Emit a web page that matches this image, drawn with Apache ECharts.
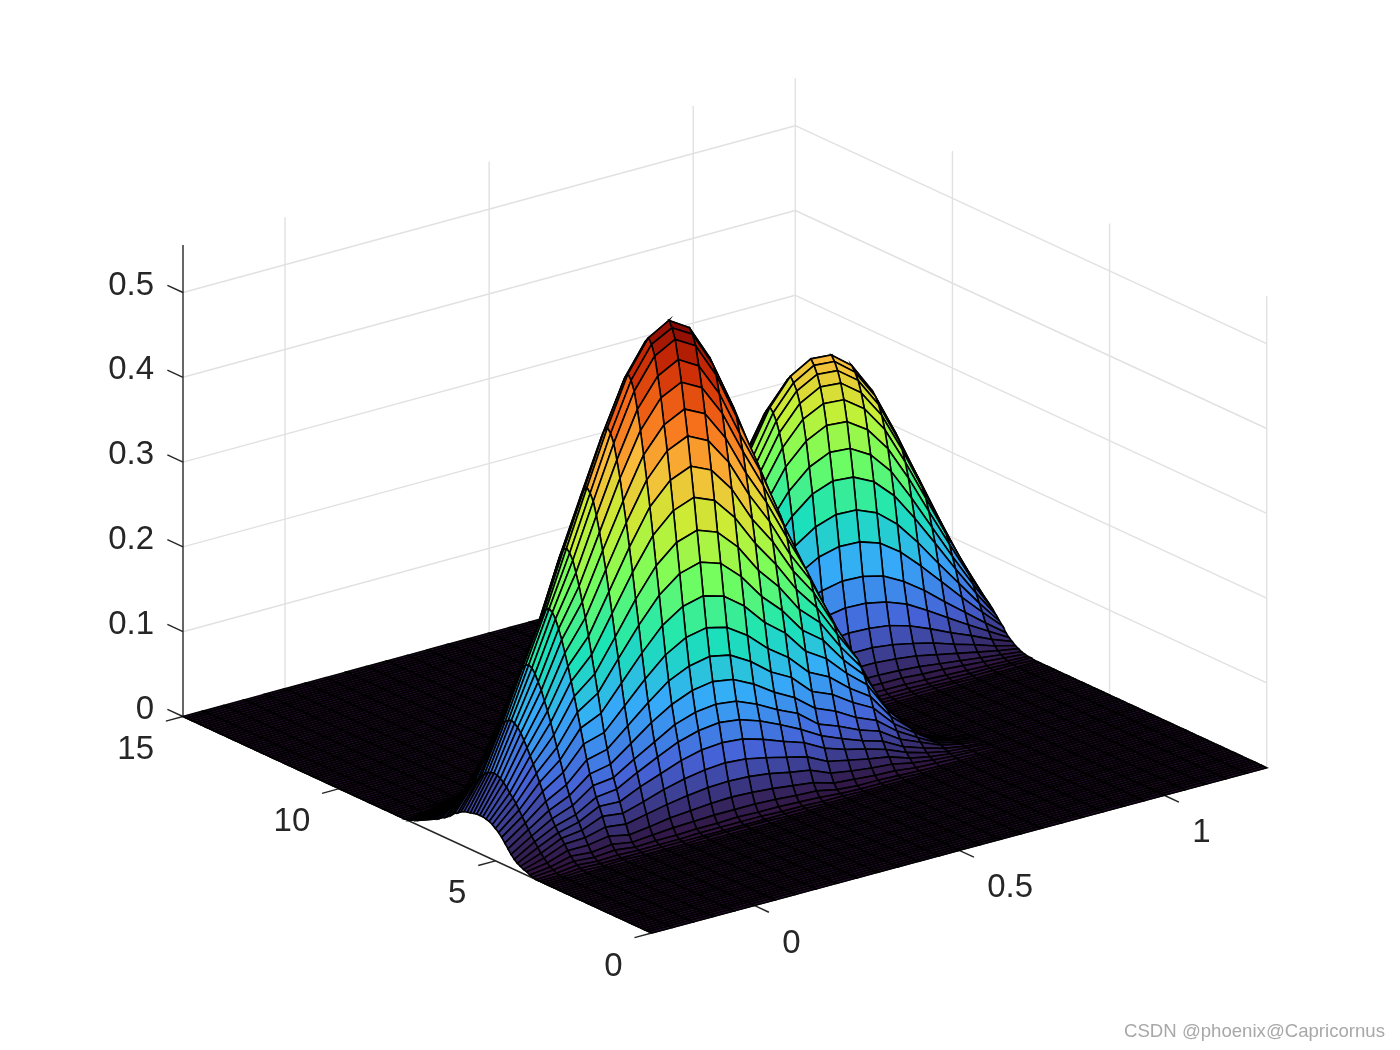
<!DOCTYPE html>
<html><head><meta charset="utf-8"><style>html,body{margin:0;background:#fff}#c{width:1400px;height:1050px}</style>
<script src="https://cdn.jsdelivr.net/npm/echarts@6/dist/echarts.min.js"></script></head>
<body><div id="c"></div><script>
const xGrid=[-0.25,-0.2,-0.15,-0.1,-0.05,0,0.05,0.1,0.15,0.2,0.25,0.3,0.35,0.4,0.45,0.5,0.55,0.6,0.65,0.7,0.75,0.8,0.85,0.9,0.95,1,1.05,1.1,1.15,1.2,1.25];
const yGrid=[0,0.1,0.2,0.3,0.4,0.5,0.6,0.7,0.8,0.9,1,1.1,1.2,1.3,1.4,1.5,1.6,1.7,1.8,1.9,2,2.1,2.2,2.3,2.4,2.5,2.6,2.7,2.8,2.9,3,3.1,3.2,3.3,3.4,3.5,3.6,3.7,3.8,3.9,4,4.1,4.2,4.3,4.4,4.5,4.6,4.7,4.8,4.9,5,5.1,5.2,5.3,5.4,5.5,5.6,5.7,5.8,5.9,6,6.1,6.2,6.3,6.4,6.5,6.6,6.7,6.8,6.9,7,7.1,7.2,7.3,7.4,7.5,7.6,7.7,7.8,7.9,8,8.1,8.2,8.3,8.4,8.5,8.6,8.7,8.8,8.9,9,9.1,9.2,9.3,9.4,9.5,9.6,9.7,9.8,9.9,10,10.1,10.2,10.3,10.4,10.5,10.6,10.7,10.8,10.9,11,11.1,11.2,11.3,11.4,11.5,11.6,11.7,11.8,11.9,12,12.1,12.2,12.3,12.4,12.5,12.6,12.7,12.8,12.9,13,13.1,13.2,13.3,13.4,13.5,13.6,13.7,13.8,13.9,14,14.1,14.2,14.3,14.4,14.5,14.6,14.7,14.8,14.9,15];
// heights in thousandths. Each inner list is one x column.
// frontHill: columns x=-0.25..0.85, rows start at y=3.0. Rows and columns outside are 0.
const frontHill=[
[0,0,0,0,0,0,0,0,1,2,4,5,7,9,12,16,21,26,31,35,38,41,43,44,45,45,45,44,43,42,41,39,36,34,30,27,24,22,19,17,15,13,11,9,7,5,4,2,1],
[0,0,0,0,0,0,0,1,3,5,8,12,16,21,26,31,37,43,49,55,61,66,70,75,79,82,84,85,84,82,79,75,70,66,61,55,49,44,38,33,28,23,20,17,13,10,7,4,2,1],
[0,0,0,0,0,1,2,4,7,11,16,22,27,32,38,45,53,62,72,81,90,99,107,115,122,129,134,137,139,137,134,129,122,115,107,99,90,81,72,62,53,45,38,32,27,22,16,11,7,4,2,1],
[0,0,0,0,0,0,1,2,5,9,16,23,30,38,45,54,64,75,88,101,114,127,140,152,162,173,181,189,194,196,194,189,181,173,162,152,140,127,114,101,88,75,64,54,45,38,30,23,16,9,5,2,1],
[0,0,0,0,0,1,1,3,7,12,20,29,40,50,59,71,83,98,115,132,149,166,182,198,212,226,237,247,253,256,253,247,237,226,212,198,182,166,149,132,115,98,83,71,59,50,40,29,20,12,7,3,1,1],
[0,0,0,0,0,0,1,2,4,8,15,26,37,49,62,74,88,104,122,143,165,186,207,227,247,264,281,295,308,315,319,315,308,295,281,264,247,227,207,186,165,143,122,104,88,74,62,49,37,26,15,8,4,2,1],
[0,0,0,0,0,0,1,2,5,10,18,31,44,60,75,89,106,125,147,172,199,223,249,273,297,318,338,356,371,379,384,379,371,356,338,318,297,273,249,223,199,172,147,125,106,89,75,60,44,31,18,10,5,2,1],
[0,0,0,0,0,0,1,2,5,12,22,36,52,69,87,103,124,146,172,201,232,261,291,319,346,370,395,415,433,443,448,443,433,415,395,370,346,319,291,261,232,201,172,146,124,103,87,69,52,36,22,12,5,2,1],
[0,0,0,0,0,1,1,3,6,13,24,40,58,78,98,117,139,165,194,227,261,294,328,360,390,418,445,468,488,499,505,499,488,468,445,418,390,360,328,294,261,227,194,165,139,117,98,78,58,40,24,13,6,3,1,1],
[0,0,0,0,0,1,1,3,6,14,26,43,62,84,105,125,149,176,208,243,280,315,351,385,418,447,477,501,523,535,541,535,523,501,477,447,418,385,351,315,280,243,208,176,149,125,105,84,62,43,26,14,6,3,1,1],
[0,0,0,0,0,1,1,3,7,14,27,44,64,86,108,128,153,181,213,249,287,323,360,395,429,459,489,514,536,548,555,548,536,514,489,459,429,395,360,323,287,249,213,181,153,128,108,86,64,44,27,14,7,3,1,1],
[0,0,0,0,0,1,1,3,6,14,26,43,62,84,105,125,149,176,207,242,279,314,350,384,417,447,476,500,522,534,540,534,522,500,476,447,417,384,350,314,279,242,207,176,149,125,105,84,62,43,26,14,6,3,1,1],
[0,0,0,0,0,0,1,2,6,13,24,40,57,77,97,115,137,162,191,224,257,290,323,355,385,412,439,461,481,492,498,492,481,461,439,412,385,355,323,290,257,224,191,162,137,115,97,77,57,40,24,13,6,2,1],
[0,0,0,0,0,0,1,2,5,11,21,35,51,68,86,102,121,143,169,198,227,256,286,313,340,364,388,407,425,435,440,435,425,407,388,364,340,313,286,256,227,198,169,143,121,102,86,68,51,35,21,11,5,2,1],
[0,0,0,0,0,0,0,1,4,10,18,31,45,60,74,91,108,130,152,179,204,230,255,280,302,323,341,357,366,371,366,357,341,323,302,280,255,230,204,179,152,130,108,91,74,60,45,31,18,10,4,1],
[0,0,0,0,0,0,0,1,2,5,11,21,33,47,60,72,89,107,128,151,174,197,219,239,257,275,288,297,302,297,288,275,257,239,219,197,174,151,128,107,89,72,60,47,33,21,11,5,2,1],
[0,0,0,0,0,0,0,0,1,3,9,17,28,39,50,63,79,97,116,136,156,175,191,207,220,228,233,228,220,207,191,175,156,136,116,97,79,63,50,39,28,17,9,3,1],
[0,0,0,0,0,0,0,0,1,3,7,14,23,33,41,52,65,81,96,112,126,140,153,163,170,174,170,163,153,140,126,112,96,81,65,52,41,33,23,14,7,3,1],
[0,0,0,0,0,0,0,0,1,2,6,12,19,26,34,44,55,68,80,92,102,110,117,120,117,110,102,92,80,68,55,44,34,26,19,12,6,2,1],
[0,0,0,0,0,0,0,0,0,1,3,7,11,16,21,28,36,43,50,56,60,62,60,56,50,43,36,28,21,16,11,7,3,1],
[0,0,0,0,0,0,0,0,0,0,2,4,6,9,13,18,22,26,29,30,29,26,22,18,13,9,6,4,2],
[0,0,0,0,0,0,0,0,0,0,1,2,3,4,6,8,9,10,9,8,6,4,3,2,1],
[0,0,0,0,0,0,0,0,0,0,0,1,1,2,2,3,3,3,2,2,1,1]
];
// rearHill: columns x=0.4..1.25, rows start at y=7.2.
const rearHill=[
[0,0,0,0,1,1,1,2,3,5,7,9,12,14,17,19,21,23,24,25,26,26,26,25,24,23,21,19,17,14,12,9,7,5,3,2,1,1,1],
[0,0,0,0,1,2,3,4,6,9,12,16,21,25,30,34,37,40,43,44,45,46,45,44,43,40,37,34,30,25,21,16,12,9,6,4,3,2,1],
[0,0,0,1,1,2,3,4,7,10,14,20,26,34,41,49,55,61,66,69,72,74,75,74,72,69,66,61,55,49,41,34,26,20,14,10,7,4,3,2,1,1],
[0,0,1,1,2,4,7,10,15,22,31,40,52,63,74,84,93,101,106,110,113,115,113,110,106,101,93,84,74,63,52,40,31,22,15,10,7,4,2,1,1],
[0,0,1,2,3,6,9,15,22,32,44,57,74,90,107,121,134,145,152,158,162,165,162,158,152,145,134,121,107,90,74,57,44,32,22,15,9,6,3,2,1],
[0,1,1,2,5,8,13,20,30,43,60,78,101,123,146,165,183,197,208,216,221,225,221,216,208,197,183,165,146,123,101,78,60,43,30,20,13,8,5,2,1,1],
[0,1,1,3,6,10,16,26,38,54,76,99,129,156,184,209,231,250,263,274,280,285,280,274,263,250,231,209,184,156,129,99,76,54,38,26,16,10,6,3,1,1],
[0,1,2,3,7,12,19,30,44,63,88,115,149,181,214,242,269,290,306,318,326,331,326,318,306,290,269,242,214,181,149,115,88,63,44,30,19,12,7,3,2,1],
[0,1,2,4,7,13,21,32,48,69,96,125,163,197,234,264,293,317,334,347,355,361,355,347,334,317,293,264,234,197,163,125,96,69,48,32,21,13,7,4,2,1],
[0,1,2,4,8,14,21,34,50,72,100,130,169,205,243,275,305,329,347,360,369,375,369,360,347,329,305,275,243,205,169,130,100,72,50,34,21,14,8,4,2,1],
[0,1,2,4,7,13,21,34,50,71,99,129,168,204,241,273,303,327,345,358,367,373,367,358,345,327,303,273,241,204,168,129,99,71,50,34,21,13,7,4,2,1],
[0,1,2,4,7,13,20,32,47,68,94,123,160,194,229,259,287,310,327,340,348,354,348,340,327,310,287,259,229,194,160,123,94,68,47,32,20,13,7,4,2,1],
[0,1,2,3,6,11,18,29,42,61,85,110,143,174,206,233,258,279,294,305,313,318,313,305,294,279,258,233,206,174,143,110,85,61,42,29,18,11,6,3,2,1],
[0,1,1,3,5,10,15,24,36,51,71,93,120,146,173,195,217,234,247,256,263,267,263,256,247,234,217,195,173,146,120,93,71,51,36,24,15,10,5,3,1,1],
[0,0,1,2,4,8,12,19,28,40,56,73,95,115,137,154,171,185,195,203,208,211,208,203,195,185,171,154,137,115,95,73,56,40,28,19,12,8,4,2,1],
[0,0,1,2,3,6,9,14,21,30,41,54,70,85,100,113,126,136,143,149,153,155,153,149,143,136,126,113,100,85,70,54,41,30,21,14,9,6,3,2,1],
[0,0,1,1,2,4,6,9,13,19,27,35,46,55,65,74,82,89,93,97,99,101,99,97,93,89,82,74,65,55,46,35,27,19,13,9,6,4,2,1,1],
[0,0,0,1,1,2,3,5,7,10,13,17,23,27,32,37,41,44,46,48,49,50,49,48,46,44,41,37,32,27,23,17,13,10,7,5,3,2,1,1]
];
const zTicks=[0,0.1,0.2,0.3,0.4,0.5], yTicks=[0,5,10,15], xTicks=[0,0.5,1];
const zLabels=['0','0.1','0.2','0.3','0.4','0.5'], yLabels=['0','5','10','15'], xLabels=['0','0.5','1'];
const xLim=[-0.25,1.25], yLim=[0,15], zLim=[0,0.556];
const turbo=['#30123B','#4662D7','#36AAF9','#1AE4B6','#72FE5E','#C8EF34','#FABA39','#F66B19','#CB2A04','#7A0403'];
const watermark='CSDN @phoenix@Capricornus';

// Projection of the 3D box on the page: floor corners and height scale
const floorA=[651.7,933],floorB=[1266.7,767.7],floorC=[183,716.5],floorD=[795.3,549.7],zScale=848;
function project(x,y,z){
  const s=(x-xLim[0])/(xLim[1]-xLim[0]),t=(y-yLim[0])/(yLim[1]-yLim[0]);
  const f=k=>(1-s)*(1-t)*floorA[k]+s*(1-t)*floorB[k]+(1-s)*t*floorC[k]+s*t*floorD[k];
  return [f(0),f(1)-zScale*z];
}
function height(i,j){
  const a=(frontHill[i]||[])[j-30]||0;
  const b=(rearHill[i-13]||[])[j-72]||0;
  return (a+b)/1000;
}
const cells=[];
for(let j=yGrid.length-2;j>=0;j--)for(let i=xGrid.length-2;i>=0;i--)cells.push([i,j,height(i,j)]);

const ink='#262626',gridInk='#e1e1e1';
const gridSegs=[];
zTicks.forEach(z=>{
  gridSegs.push([xLim[0],yLim[1],z,xLim[1],yLim[1],z]);
  gridSegs.push([xLim[1],yLim[1],z,xLim[1],yLim[0],z]);
});
xTicks.forEach(x=>gridSegs.push([x,yLim[1],zLim[0],x,yLim[1],zLim[1]]));
yTicks.forEach(y=>gridSegs.push([xLim[1],y,zLim[0],xLim[1],y,zLim[1]]));
const axisSegs=[
 [xLim[0],yLim[0],0,xLim[1],yLim[0],0],
 [xLim[0],yLim[0],0,xLim[0],yLim[1],0],
 [xLim[0],yLim[1],zLim[0],xLim[0],yLim[1],zLim[1]]];
xTicks.forEach(x=>axisSegs.push([x,yLim[0],0,x,yLim[0]-0.47,0]));
yTicks.forEach(y=>axisSegs.push([xLim[0],y,0,xLim[0]-0.042,y,0]));
zTicks.forEach(z=>axisSegs.push([xLim[0],yLim[1],z,xLim[0],yLim[1]+0.5,z]));
const labels=[];
zTicks.forEach((z,k)=>{const p=project(xLim[0],yLim[1],z);labels.push([zLabels[k],p[0]-29,p[1]-7,'right']);});
yTicks.forEach((y,k)=>{const p=project(xLim[0],y,0);labels.push([yLabels[k],p[0]-29,p[1]+33.5,'right']);});
xTicks.forEach((x,k)=>{const p=project(x,yLim[0],0);labels.push([xLabels[k],p[0]+28,p[1]+38,'left']);});

function segRenderer(color,w){
  return (params,api)=>{
    const a=project(api.value(0),api.value(1),api.value(2)),b=project(api.value(3),api.value(4),api.value(5));
    const p=api.coord(a),q=api.coord(b);
    return {type:'line',shape:{x1:p[0],y1:p[1],x2:q[0],y2:q[1]},style:{stroke:color,lineWidth:w}};
  };
}
const chart=echarts.init(document.getElementById('c'),null,{renderer:'canvas'});
chart.setOption({
  animation:false,backgroundColor:'#fff',
  title:{text:watermark,right:10,top:1017,textStyle:{fontSize:18.6,fontWeight:'normal',color:'#a8a8a8',fontFamily:'Liberation Sans'}},
  grid:{left:0,right:0,top:0,bottom:0},
  xAxis:{type:'value',min:0,max:1400,show:false},
  yAxis:{type:'value',min:0,max:1050,inverse:true,show:false},
  visualMap:{show:false,type:'continuous',min:zLim[0],max:zLim[1],dimension:2,seriesIndex:2,inRange:{color:turbo}},
  series:[
   {type:'custom',coordinateSystem:'cartesian2d',silent:true,clip:false,progressive:0,encode:{x:0,y:1},data:gridSegs,renderItem:segRenderer(gridInk,1.4)},
   {type:'custom',coordinateSystem:'cartesian2d',silent:true,clip:false,progressive:0,encode:{x:0,y:1},data:axisSegs,renderItem:segRenderer(ink,1.4)},
   {type:'custom',coordinateSystem:'cartesian2d',silent:true,clip:false,progressive:0,encode:{x:0,y:1},data:cells,
    renderItem:(params,api)=>{
      const i=api.value(0),j=api.value(1);
      const corners=[[i,j],[i+1,j],[i+1,j+1],[i,j+1]];
      const pts=corners.map(c=>api.coord(project(xGrid[c[0]],yGrid[c[1]],height(c[0],c[1]))));
      return {type:'polygon',shape:{points:pts},style:{fill:api.visual('color'),stroke:'#000',lineWidth:1.6}};
    }},
   {type:'custom',coordinateSystem:'cartesian2d',silent:true,clip:false,progressive:0,encode:{x:0,y:1},
    data:labels.map((l,k)=>[k]),
    renderItem:(params,api)=>{
      const l=labels[params.dataIndex],p=api.coord([l[1],l[2]]);
      return {type:'text',style:{text:l[0],x:p[0],y:p[1],align:l[3],verticalAlign:'middle',fill:ink,fontSize:33,fontFamily:'Liberation Sans'}};
    }}
  ]
});
</script></body></html>
